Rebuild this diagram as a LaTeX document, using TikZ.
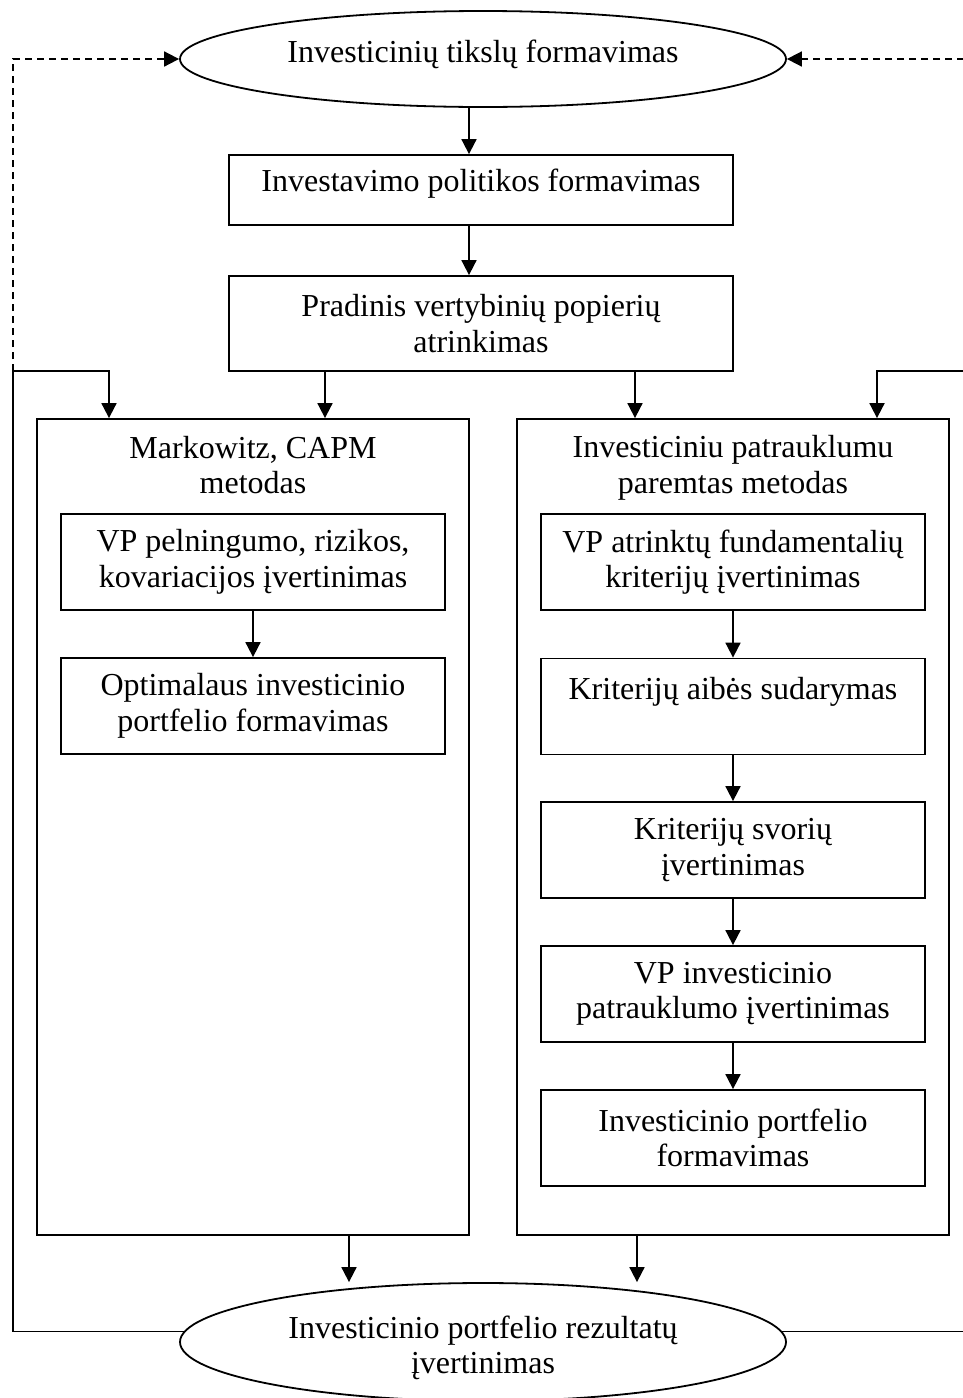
\documentclass[tikz,border=0pt]{standalone}
\usepackage{fontspec}
\setmainfont{Liberation Serif}
\usetikzlibrary{arrows.meta,shapes.geometric}
\begin{document}
\begin{tikzpicture}[x=1pt,y=-1pt,line width=1.8pt,
  every node/.style={font=\fontsize{32}{35.5}\selectfont, align=center, inner sep=0pt},
  bx/.style={draw, minimum width=384pt, minimum height=96pt},
  bigbx/.style={draw, minimum width=432pt, minimum height=816pt},
  wbx/.style={draw, minimum width=504pt},
  ell/.style={draw, ellipse, minimum width=606pt},
  arr/.style={-{Triangle[length=15pt,width=15pt]}},
  dsh/.style={dash pattern=on 7pt off 5pt}]
\useasboundingbox (0,0) rectangle (962,1398);
% nodes
\node[ell, minimum height=96pt] (e1) at (483,59) {};
\node (t1) at (483,54) {Investicinių tikslų formavimas};
\node[wbx, minimum height=70pt, text height=22pt, text depth=18.5pt] (b1) at (481,190) {Investavimo politikos formavimas};
\node[wbx, minimum height=95pt] (b2) at (481,323.5) {Pradinis vertybinių popierių\\atrinkimas};
\node[bigbx] (L) at (253,827) {};
\node[bigbx] (R) at (733,827) {};
\node (Lt) at (253,465) {Markowitz, CAPM\\metodas};
\node (Rt) at (733,468) {Investiciniu patrauklumu\\paremtas metodas};
\node[bx] (l1) at (253,562) {VP pelningumo, rizikos,\\kovariacijos įvertinimas};
\node[bx] (l2) at (253,706) {Optimalaus investicinio\\portfelio formavimas};
\node[bx] (r1) at (733,562) {VP atrinktų fundamentalių\\kriterijų įvertinimas};
\node[bx] (r2) at (733,706.5) {Kriterijų aibės sudarymas\\\mbox{}};
\node[bx] (r3) at (733,850) {Kriterijų svorių\\įvertinimas};
\node[bx] (r4) at (733,994) {VP investicinio\\patrauklumo įvertinimas};
\node[bx] (r5) at (733,1138) {Investicinio portfelio\\formavimas};
\node[ell, minimum height=118pt] (e2) at (483,1342) {};
\node (t2) at (483,1348) {Investicinio portfelio rezultatų\\įvertinimas};
% helper coordinates
\coordinate (xa) at (469,0);
\coordinate (xb) at (325,0);
\coordinate (xc) at (635,0);
\coordinate (xd) at (109,0);
\coordinate (xe) at (877,0);
\coordinate (xf) at (349,0);
\coordinate (xg) at (637,0);
\coordinate (fl) at (13,371);
\coordinate (fr) at (964,371);
% connectors
\draw[arr] (e1.south -| xa) -- (b1.north -| xa);
\draw[arr] (b1.south -| xa) -- (b2.north -| xa);
\draw[arr] (b2.south -| xb) -- (L.north -| xb);
\draw[arr] (b2.south -| xc) -- (R.north -| xc);
\draw[arr] (l1) -- (l2);
\draw[arr] (r1) -- (r2);
\draw[arr] (r2) -- (r3);
\draw[arr] (r3) -- (r4);
\draw[arr] (r4) -- (r5);
\draw[arr] (L.south -| xf) -- (e2.north -| xf);
\draw[arr] (R.south -| xg) -- (e2.north -| xg);
\draw[arr] (e2.178) -- (e2.178 -| fl) -- (fl) -- (fl -| xd) -- (L.north -| xd);
\draw[dsh, arr] (fl) -- (fl |- e1.west) -- (e1.west);
\draw[arr] (e2.2) -- (e2.2 -| fr) -- (fr) -- (fr -| xe) -- (R.north -| xe);
\draw[dsh, arr] (fr) -- (fr |- e1.east) -- (e1.east);
\end{tikzpicture}
\end{document}
